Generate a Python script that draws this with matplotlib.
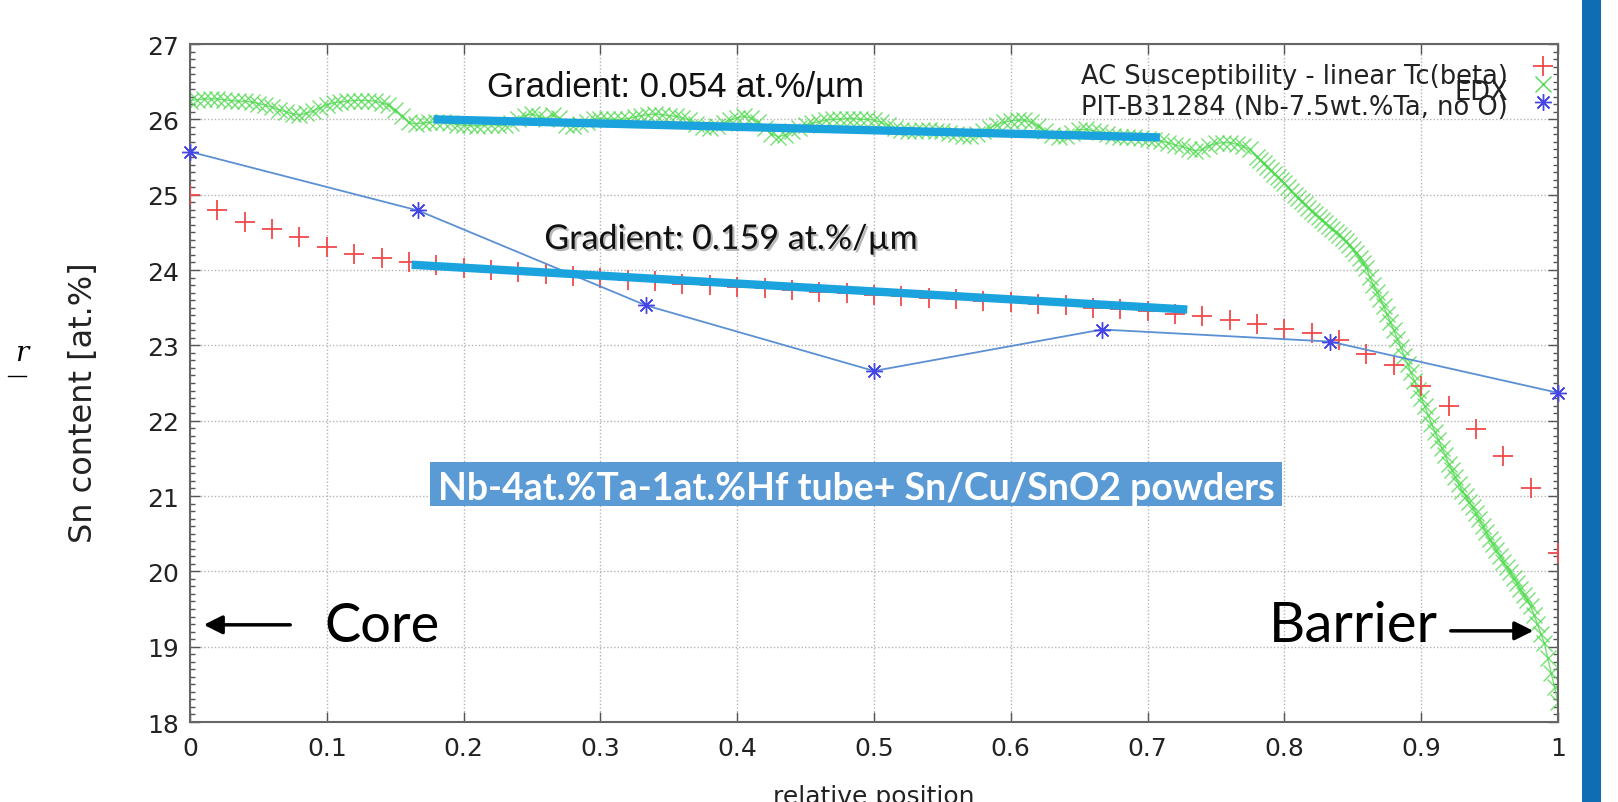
import numpy as np
import matplotlib
matplotlib.use('Agg')
import matplotlib.pyplot as plt
from matplotlib.patches import Rectangle
from matplotlib.lines import Line2D
from matplotlib import patheffects
from matplotlib.ticker import MultipleLocator, FormatStrFormatter

# AC susceptibility - linear Tc(beta), one value every 0.02 of relative position
ac_values = [25.00, 24.80, 24.64, 24.54, 24.44, 24.30, 24.21, 24.16, 24.11, 24.06,
             24.03, 24.00, 23.97, 23.95, 23.92, 23.90, 23.87, 23.85, 23.82, 23.80,
             23.78, 23.76, 23.73, 23.71, 23.69, 23.67, 23.65, 23.63, 23.61, 23.59,
             23.57, 23.55, 23.53, 23.50, 23.48, 23.45, 23.42, 23.39, 23.33, 23.28,
             23.22, 23.17, 23.07, 22.88, 22.74, 22.46, 22.19, 21.89, 21.53, 21.10,
             20.24]
ac_pos = np.arange(len(ac_values)) * 0.02

# EDX line scan, plateau part (step 0.005 from 0)
edx_flat = [26.25, 26.26, 26.27, 26.27, 26.27, 26.26, 26.25, 26.24, 26.24, 26.23,
            26.21, 26.19, 26.16, 26.13, 26.10, 26.07, 26.06, 26.08, 26.11, 26.15,
            26.19, 26.22, 26.23, 26.24, 26.25, 26.25, 26.25, 26.24, 26.22, 26.19,
            26.12, 26.04, 25.96, 25.94, 25.95, 25.96, 25.97, 25.96, 25.95, 25.93,
            25.92, 25.92, 25.91, 25.92, 25.93, 25.92, 25.92, 25.95, 26.00, 26.05,
            26.07, 26.04, 26.01, 26.06, 26.02, 25.92, 25.91, 25.94, 25.97, 26.00,
            26.01, 26.01, 26.00, 26.00, 26.01, 26.03, 26.05, 26.06, 26.07, 26.06,
            26.05, 26.04, 26.02, 25.99, 25.94, 25.90, 25.89, 25.91, 25.95, 25.99,
            26.02, 26.04, 26.02, 25.96, 25.88, 25.81, 25.77, 25.79, 25.84, 25.89,
            25.92, 25.95, 25.97, 25.99, 26.00, 26.00, 26.01, 26.01, 26.00, 26.00,
            25.99, 25.96, 25.92, 25.88, 25.86, 25.85, 25.85, 25.86, 25.86, 25.85,
            25.84, 25.82, 25.80, 25.78, 25.78, 25.80, 25.84, 25.89, 25.93, 25.96,
            25.98, 25.99, 25.99, 25.96, 25.91, 25.85, 25.79, 25.76, 25.78, 25.82,
            25.86, 25.87, 25.85, 25.83, 25.80, 25.78, 25.77, 25.76, 25.76, 25.75,
            25.74, 25.73, 25.71, 25.69, 25.66, 25.64, 25.61, 25.58, 25.60, 25.65,
            25.68, 25.69, 25.69, 25.67, 25.64, 25.60]
# EDX line scan, drop towards the barrier (step 0.0025 from 0.78)
edx_drop = [25.50, 25.46, 25.42, 25.37, 25.33, 25.28, 25.24, 25.19, 25.15, 25.10,
            25.05, 25.00, 24.95, 24.91, 24.87, 24.82, 24.78, 24.74, 24.70, 24.66,
            24.62, 24.58, 24.55, 24.51, 24.47, 24.42, 24.38, 24.33, 24.28, 24.22,
            24.16, 24.09, 24.02, 23.91, 23.80, 23.71, 23.62, 23.52, 23.41, 23.31,
            23.20, 23.09, 22.98, 22.86, 22.75, 22.64, 22.53, 22.41, 22.30, 22.19,
            22.08, 21.96, 21.85, 21.75, 21.64, 21.54, 21.43, 21.34, 21.25, 21.16,
            21.07, 21.00, 20.92, 20.85, 20.77, 20.69, 20.60, 20.52, 20.43, 20.36,
            20.28, 20.21, 20.13, 20.06, 19.99, 19.91, 19.84, 19.77, 19.69, 19.62,
            19.54, 19.42, 19.30, 19.17, 19.05, 18.85, 18.65, 18.46, 18.26]
edx_pos = np.concatenate([np.arange(len(edx_flat)) * 0.005,
                          0.78 + np.arange(len(edx_drop)) * 0.0025])
edx_values = edx_flat + edx_drop

# PIT-B31284 (Nb-7.5wt.%Ta, no O)
pit_pos = [0, 1 / 6, 1 / 3, 1 / 2, 2 / 3, 5 / 6, 1]
pit_values = [25.57, 24.79, 23.53, 22.66, 23.21, 23.05, 22.37]

# hand drawn gradient fits
grad_top_x = [0.178, 0.709]
grad_top_y = [26.00, 25.76]
grad_mid_x = [0.162, 0.729]
grad_mid_y = [24.07, 23.475]

x_ticks = [0, 0.1, 0.2, 0.3, 0.4, 0.5, 0.6, 0.7, 0.8, 0.9, 1]
y_ticks = [18, 19, 20, 21, 22, 23, 24, 25, 26, 27]

plt.rcParams['font.family'] = ['DejaVu Sans']
tick_fs = 18

red = '#f04a4a'
green = '#52da52'
star_blue = '#4646e6'
fit_blue = '#1ba3de'

red_style = dict(color=red, marker='+', markersize=15, markeredgewidth=1.3)
green_style = dict(color=green, marker='x', markersize=12, markeredgewidth=1.0)
star_style = dict(color=star_blue, marker=(8, 2, 0), markersize=12, markeredgewidth=1.0)

fig = plt.figure(figsize=(16.18, 8.03), dpi=100)
ax = fig.add_axes([190 / 1618, 80 / 803, 1368 / 1618, 678 / 803])

ax.plot(edx_pos, edx_values, lw=1.0, alpha=0.8, zorder=2, **green_style)
ax.plot(ac_pos, ac_values, linestyle='none', zorder=3, **red_style)
ax.plot(pit_pos, pit_values, color='#5b90d2', lw=1.3, zorder=4, clip_on=False)
ax.plot(pit_pos, pit_values, linestyle='none', zorder=5, clip_on=False, **star_style)

ax.plot(grad_top_x, grad_top_y, color=fit_blue, lw=6, solid_capstyle='butt', zorder=6)
ax.plot(grad_mid_x, grad_mid_y, color=fit_blue, lw=6, solid_capstyle='butt', zorder=6)

# gnuplot style key: right aligned text, marker on the right, tight rows
key_labels = ['AC Susceptibility - linear Tc(beta)', 'EDX', 'PIT-B31284 (Nb-7.5wt.%Ta, no O)']
key_styles = [red_style, green_style, star_style]
key_text_y = [0.9425, 0.9196, 0.8968]
key_mark_y = [0.9676, 0.941, 0.9145]
for label, style, ty, my in zip(key_labels, key_styles, key_text_y, key_mark_y):
    ax.text(0.9635, ty, label, transform=ax.transAxes, ha='right', va='baseline',
            fontsize=18.5, color='#222222', zorder=9)
    ax.plot([0.9891], [my], transform=ax.transAxes, linestyle='none', clip_on=False,
            zorder=9, **style)

ax.set_xlim(0, 1)
ax.set_ylim(18, 27)
ax.set_xticks(x_ticks)
ax.set_yticks(y_ticks)
ax.xaxis.set_major_formatter(FormatStrFormatter('%g'))
ax.yaxis.set_minor_locator(MultipleLocator(0.1))
ax.tick_params(which='both', direction='in', top=True, right=True, labelsize=tick_fs,
               colors='#555555', labelcolor='#222222')
ax.tick_params(which='major', length=7, width=1)
ax.tick_params(which='minor', length=3.5, width=1, top=False, bottom=False)
ax.tick_params(axis='x', pad=10)
ax.tick_params(axis='y', pad=8)
ax.grid(True, which='major', color='#b4b4b4', linestyle=(0, (1, 1.5)), lw=1.0)
for sp in ax.spines.values():
    sp.set_color('#666666')
    sp.set_linewidth(1.5)

ax.set_xlabel('relative position', fontsize=tick_fs, va='baseline', color='#222222')
ax.xaxis.set_label_coords(0.5, -0.1195)
ax.set_ylabel('Sn content [at.%]', fontsize=23, va='center', ha='center', color='#222222')
ax.yaxis.set_label_coords(-0.078, 0.473)

# slide annotations
ax.text(0.217, 26.31, 'Gradient: 0.054 at.%/µm', family='Liberation Sans', fontsize=25,
        va='baseline', color='#111111', zorder=7)
ax.text(0.259, 24.28, 'Gradient: 0.159 at.%/µm', family='Lato', fontsize=24.5,
        va='baseline', color='#111111', zorder=7,
        path_effects=[patheffects.withSimplePatchShadow(offset=(1.5, -1.5),
                                                        shadow_rgbFace='#888888', alpha=0.6)])
ax.add_patch(Rectangle((0.1754, 20.87), 0.798 - 0.1754, 0.58, facecolor='#5a9bd5',
                       edgecolor='none', zorder=7))
ax.text(0.487, 20.96, 'Nb-4at.%Ta-1at.%Hf tube+ Sn/Cu/SnO2 powders', family='Lato',
        fontweight='bold', fontsize=27, color='white', ha='center', va='baseline', zorder=8)

ax.text(0.098, 19.07, 'Core', family='Lato', fontsize=39, va='baseline', color='black', zorder=8)
ax.annotate('', xy=(0.008, 19.29), xytext=(0.0753, 19.29),
            arrowprops=dict(arrowstyle='-|>', color='black', lw=2.5, mutation_scale=28),
            zorder=8)
ax.text(0.789, 19.07, 'Barrier', family='Lato', fontsize=40.5, va='baseline', color='black',
        zorder=8)
ax.annotate('', xy=(0.984, 19.21), xytext=(0.9196, 19.21),
            arrowprops=dict(arrowstyle='-|>', color='black', lw=2.5, mutation_scale=28),
            zorder=8)

# leftover glyph on the left edge and the blue slide frame on the right
fig.text(0.009, 1 - 361 / 803, 'r', family='DejaVu Serif', style='italic', fontsize=20)
fig.add_artist(Line2D([0.005, 0.016], [1 - 377 / 803] * 2, transform=fig.transFigure,
                      color='black', lw=1))
fig.add_artist(Rectangle((1582 / 1618, 0), 19 / 1618, 1, transform=fig.transFigure,
                         facecolor='#0f6db3', edgecolor='none'))

fig.savefig('out.png', dpi=100)
